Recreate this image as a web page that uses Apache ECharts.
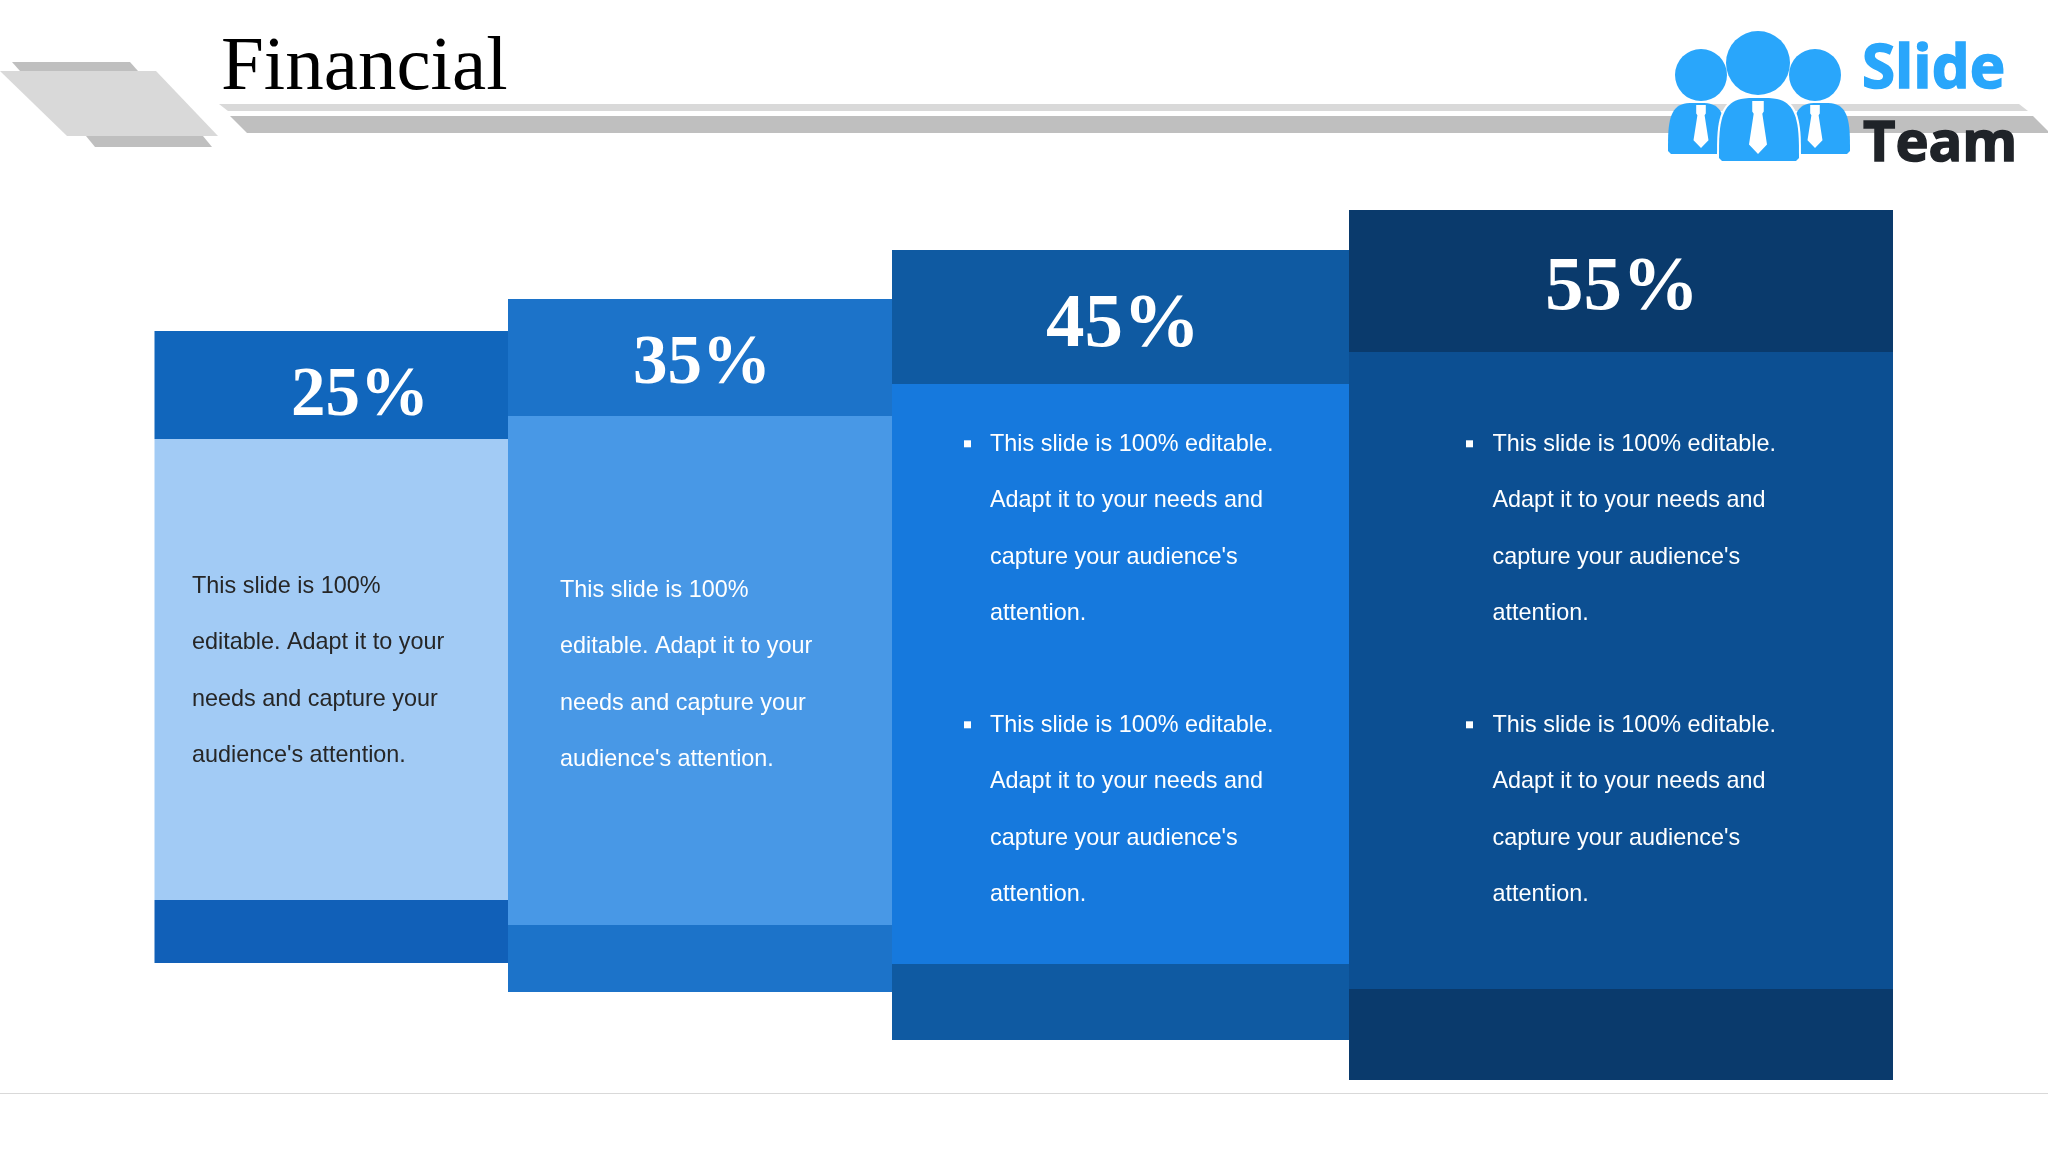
<!DOCTYPE html>
<html>
<head>
<meta charset="utf-8">
<style>html,body{margin:0;padding:0;background:#fff}#c{width:2048px;height:1152px}</style>
<script src="https://cdn.jsdelivr.net/npm/echarts@6/dist/echarts.min.js"></script>
</head>
<body>
<div id="c"></div>
<script>
// ---- chart values (slide units) ----
const percents = [25, 35, 45, 55];
const columnStart = [154.5, 508, 892, 1349];
const columnEnd = [508, 892, 1349, 1893];
const columnTop = [331, 299, 250, 210];
const headerHeight = [108, 117, 134, 142];
const bodyHeight = [461, 509, 580, 637];
const footerHeight = [63, 67, 76, 91];
const percentCenter = [360, 702, 1123, 1622];
const percentSize = [69, 69, 77, 77];
const percentBaseShift = [14, 10, 11, 10];
const paragraphLines = ['This slide is 100%', 'editable. Adapt it to your', 'needs and capture your', "audience's attention."];
const bulletLines = ['This slide is 100% editable.', 'Adapt it to your needs and', "capture your audience's", 'attention.'];
const titleText = 'Financial';
const brandWords = ['Slide', 'Team'];

// ---- styles ----
const headerColors = ['#1166BC', '#1C73C9', '#0F5AA2', '#0A3A6C'];
const bodyColors = ['#A2CBF5', '#4898E6', '#1679DD', '#0C4F92'];
const footerColors = ['#1160B8', '#1C73C9', '#0F5AA2', '#0A3A6C'];
const textColors = ['#262626', '#FFFFFF', '#FFFFFF', '#FFFFFF'];
const bodyFont = '23.4px "Liberation Sans"';
const logoBlue = '#29A6FB';

const rows = percents.map((p, i) => [columnStart[i], columnEnd[i], columnTop[i],
  columnTop[i] + headerHeight[i],
  columnTop[i] + headerHeight[i] + bodyHeight[i],
  columnTop[i] + headerHeight[i] + bodyHeight[i] + footerHeight[i],
  percentCenter[i], p, i]);

function renderColumn(params, api) {
  const i = api.value(8);
  const x0 = api.coord([api.value(0), 0])[0];
  const x1 = api.coord([api.value(1), 0])[0];
  const y = [2, 3, 4, 5].map(k => api.coord([0, api.value(k)])[1]);
  const rect = (a, b, fill) => ({
    type: 'rect',
    shape: { x: x0, y: a, width: x1 - x0, height: b - a },
    style: { fill: fill }
  });
  return {
    type: 'group',
    children: [
      rect(y[0], y[1], headerColors[i]),
      rect(y[1], y[2], bodyColors[i]),
      rect(y[2], y[3], footerColors[i]),
      {
        type: 'text',
        style: {
          text: api.value(7) + '%',
          x: api.coord([api.value(6), 0])[0],
          y: (y[0] + y[1]) / 2 - 2 + percentBaseShift[i],
          fill: '#FFFFFF',
          font: 'bold ' + percentSize[i] + 'px "Liberation Serif"',
          textAlign: 'center',
          textVerticalAlign: 'middle'
        }
      }
    ]
  };
}

// ---- decoration and page text ----
const poly = (points, fill, z) => ({ type: 'polygon', z: z || 5, shape: { points: points }, style: { fill: fill } });
const txt = (text, x, y, font, fill, extra) => ({
  type: 'text', z: 20,
  style: Object.assign({ text: text, x: x, y: y, font: font, fill: fill, textAlign: 'left', textVerticalAlign: 'middle' }, extra || {})
});
function dome(x0, x1, top, bottom) {
  const pts = [[x0 + 3, bottom], [x0, bottom - 3]];
  const cx = (x0 + x1) / 2, rx = (x1 - x0) / 2, ry = bottom - top;
  for (let a = 0; a <= 40; a++) {
    const t = Math.PI - Math.PI * a / 40;
    const c = Math.cos(t), s = Math.sin(t);
    pts.push([cx + rx * Math.sign(c) * Math.pow(Math.abs(c), 0.55), bottom - 3 - (ry - 3) * Math.pow(s, 0.6)]);
  }
  pts.push([x1, bottom - 3], [x1 - 3, bottom]);
  return pts;
}
const tie = (cx, top, w, h) => [
  [cx - w * 0.32, top], [cx + w * 0.32, top], [cx + w * 0.32, top + h * 0.2], [cx + w * 0.24, top + h * 0.24],
  [cx + w * 0.5, top + h * 0.82], [cx, top + h], [cx - w * 0.5, top + h * 0.82], [cx - w * 0.24, top + h * 0.24],
  [cx - w * 0.32, top + h * 0.2]
];
const circle = (cx, cy, r) => ({ type: 'circle', z: 15, shape: { cx: cx, cy: cy, r: r }, style: { fill: logoBlue } });

const graphics = [
  poly([[12, 62], [130, 62], [138, 71], [20, 71]], '#BFBFBF'),
  poly([[86, 136], [203, 136], [212, 147], [95, 147]], '#BFBFBF'),
  poly([[0, 71], [156, 71], [218, 136], [67, 136]], '#D9D9D9', 6),
  poly([[219, 104], [2019, 104], [2028, 111], [228, 111]], '#D9D9D9'),
  poly([[230, 116], [2033, 116], [2050, 133], [247, 133]], '#BFBFBF'),
  { type: 'line', z: 5, shape: { x1: 0, y1: 1093.5, x2: 2048, y2: 1093.5 }, style: { stroke: '#D9D9D9', lineWidth: 1 } },
  txt(titleText, 221, 68.5, '77px "Liberation Serif"', '#000000'),
  circle(1701, 75, 26), circle(1815, 75, 26), circle(1758, 63, 32),
  poly(dome(1668, 1726, 103, 154), logoBlue, 15),
  poly(dome(1792, 1850, 103, 154), logoBlue, 15),
  poly(dome(1717, 1801, 96, 161), '#FFFFFF', 15.5),
  poly(dome(1719, 1799, 98, 161), logoBlue, 16),
  poly(tie(1701, 105, 15, 43), '#FFFFFF', 17),
  poly(tie(1815, 105, 15, 43), '#FFFFFF', 17),
  poly(tie(1758, 101, 18, 53), '#FFFFFF', 17),
  txt(brandWords[0], 1862, 71, 'bold 60px "Open Sans"', logoBlue, { stroke: logoBlue, lineWidth: 1.5 }),
  txt(brandWords[1], 1863, 145, 'bold 56px "Open Sans"', '#1F2328', { stroke: '#1F2328', lineWidth: 1.5 })
];

const lineGap = 56.4;
paragraphLines.forEach((line, k) => {
  graphics.push(txt(line, 192, 586.3 + k * lineGap, bodyFont, textColors[0]));
  graphics.push(txt(line, 560, 590.3 + k * lineGap, bodyFont, textColors[1]));
});
[[990, 964, 2], [1492.5, 1466, 3]].forEach(([tx, bx, c]) => {
  [444.3, 725.3].forEach(start => {
    graphics.push({ type: 'rect', z: 20, shape: { x: bx, y: start - 4, width: 7, height: 7 }, style: { fill: '#FFFFFF' } });
    bulletLines.forEach((line, k) => {
      graphics.push(txt(line, tx, start + k * lineGap, bodyFont, textColors[c]));
    });
  });
});

const chart = echarts.init(document.getElementById('c'), null, { renderer: 'canvas' });
chart.setOption({
  animation: false,
  backgroundColor: '#FFFFFF',
  grid: { left: 0, right: 0, top: 0, bottom: 0 },
  xAxis: { type: 'value', min: 0, max: 2048, show: false },
  yAxis: { type: 'value', min: 0, max: 1152, inverse: true, show: false },
  graphic: { elements: graphics },
  series: [{
    type: 'custom',
    coordinateSystem: 'cartesian2d',
    renderItem: renderColumn,
    encode: { x: [0, 1], y: [2, 5] },
    silent: true,
    data: rows
  }]
});
</script>
</body>
</html>
